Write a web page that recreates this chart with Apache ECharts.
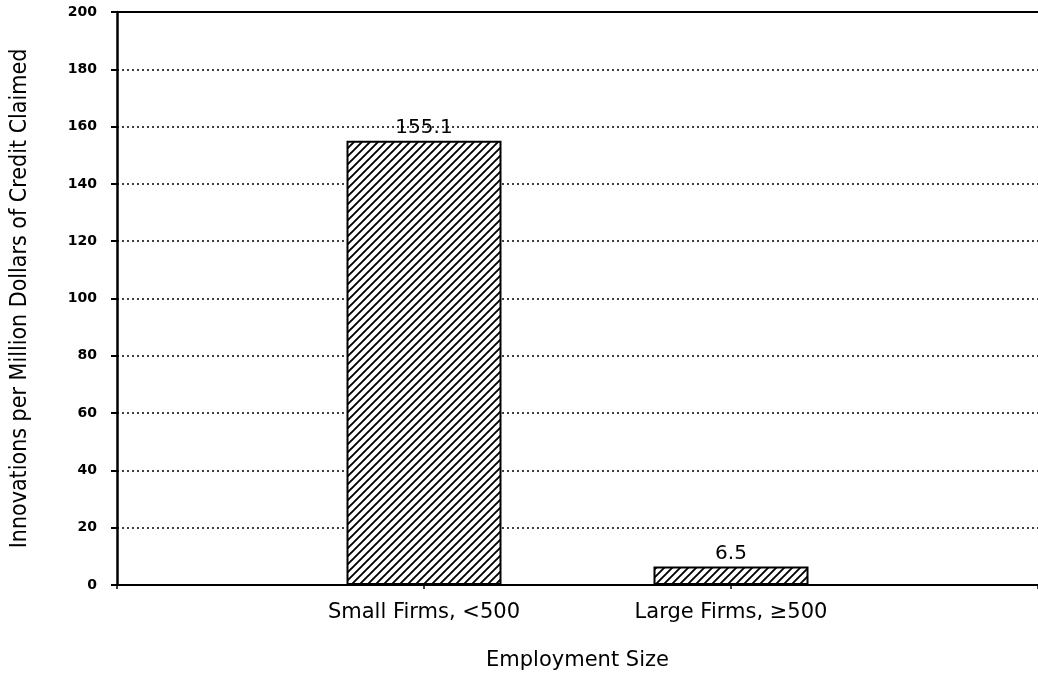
<!DOCTYPE html>
<html>
<head>
<meta charset="utf-8">
<script src="https://cdn.jsdelivr.net/npm/echarts@6/dist/echarts.min.js"></script>
<style>
  html, body { margin: 0; padding: 0; background: #fff; overflow: hidden; }
  #chart { width: 1038px; height: 677px; }
</style>
</head>
<body>
<div id="chart"></div>
<script>
// Category slots: empty slots at each end so the two bars sit inside the axis span
const categories = ['', 'Small Firms, <500', 'Large Firms, \u2265500', ''];
const innovationsPerMillion = [null, 155.1, 6.5, null];
const yTicks = { min: 0, max: 200, interval: 20 };
const yAxisTitle = 'Innovations per Million Dollars of Credit Claimed';
const xAxisTitle = 'Employment Size';

// Diagonal hatch fill for the bars
function makeHatch() {
  const s = 8;
  const c = document.createElement('canvas');
  c.width = s; c.height = s;
  const g = c.getContext('2d');
  g.fillStyle = '#fff';
  g.fillRect(0, 0, s, s);
  g.strokeStyle = '#000';
  g.lineWidth = 1.9;
  g.beginPath();
  g.moveTo(-1, s + 1); g.lineTo(s + 1, -1);
  g.moveTo(-2, 2); g.lineTo(2, -2);
  g.moveTo(s - 2, s + 2); g.lineTo(s + 2, s - 2);
  g.stroke();
  return c;
}

const chart = echarts.init(document.getElementById('chart'), null, { renderer: 'canvas' });
chart.setOption({
  animation: false,
  backgroundColor: '#fff',
  grid: { left: 117, right: 0, top: 12, bottom: 92, containLabel: false, outerBoundsMode: 'none' },
  xAxis: [{
    type: 'category',
    data: categories,
    boundaryGap: false,
    axisLine: { lineStyle: { color: '#000', width: 2 } },
    axisTick: { show: true, length: 4, lineStyle: { color: '#000', width: 1.5 } },
    axisLabel: {
      color: '#000', fontFamily: 'DejaVu Sans', fontWeight: 500, fontSize: 21, margin: 17,
      interval: 0
    },
    splitLine: { show: false },
    name: xAxisTitle,
    nameLocation: 'middle',
    nameGap: 65,
    nameTextStyle: { color: '#000', fontFamily: 'DejaVu Sans', fontWeight: 500, fontSize: 21 }
  }, {
    type: 'category',
    position: 'top',
    data: categories,
    boundaryGap: false,
    axisLine: { lineStyle: { color: '#000', width: 2 } },
    axisTick: { show: false },
    axisLabel: { show: false }
  }],
  yAxis: {
    type: 'value',
    min: yTicks.min, max: yTicks.max, interval: yTicks.interval,
    axisLine: { show: true, lineStyle: { color: '#000', width: 2.5 } },
    axisTick: { show: true, length: 6, lineStyle: { color: '#000', width: 2 } },
    axisLabel: {
      color: '#000', fontFamily: 'DejaVu Sans', fontWeight: 'bold', fontSize: 14, margin: 20
    },
    splitLine: { show: true, lineStyle: { color: '#000', width: 1.5, type: [2, 3] } },
    name: yAxisTitle,
    nameLocation: 'middle',
    nameGap: 85,
    nameRotate: 90,
    nameTextStyle: { color: '#000', fontFamily: 'DejaVu Sans Condensed', fontSize: 23 }
  },
  series: [{
    type: 'bar',
    data: innovationsPerMillion,
    barWidth: 155,
    itemStyle: {
      color: { image: makeHatch(), repeat: 'repeat' },
      borderColor: '#000',
      borderWidth: 2
    },
    label: {
      show: true, position: 'top', distance: 3,
      color: '#000', fontFamily: 'DejaVu Sans', fontSize: 20,
      formatter: p => p.value.toFixed(1)
    }
  }]
});
</script>
</body>
</html>
